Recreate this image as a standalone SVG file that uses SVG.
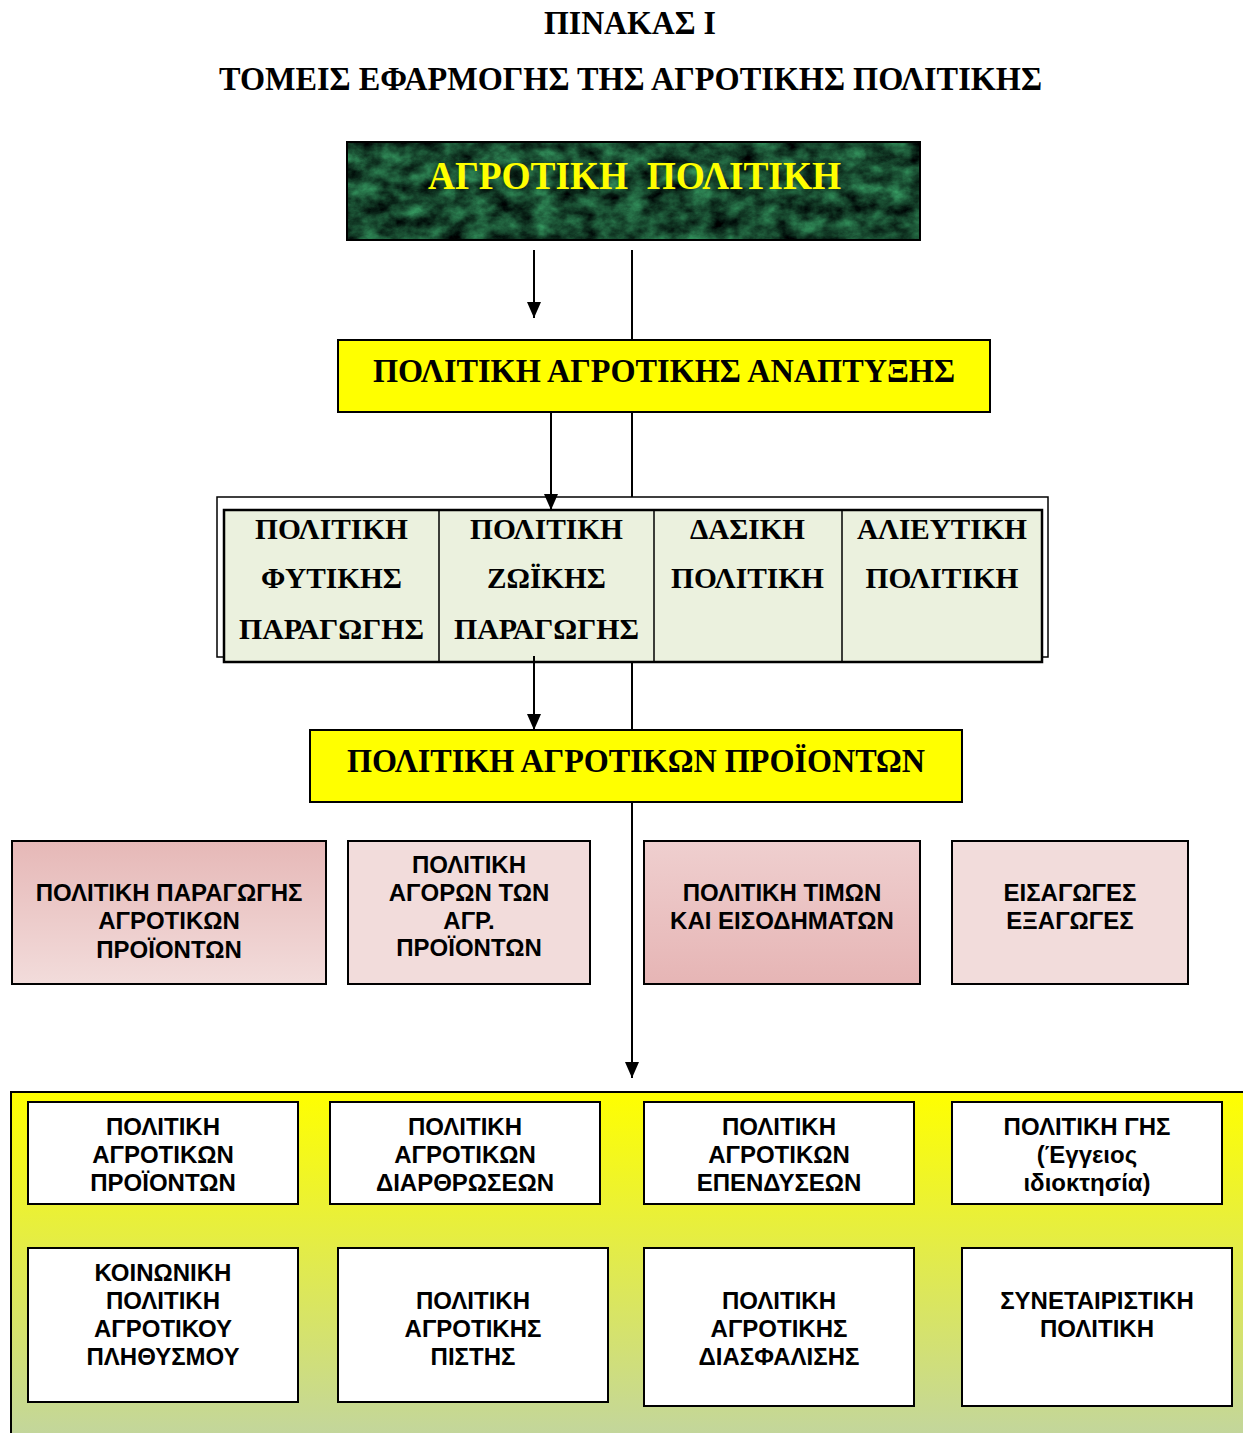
<svg xmlns="http://www.w3.org/2000/svg" width="1243" height="1433" viewBox="0 0 1243 1433">
<style>
.ser{font-family:"Liberation Serif","Times New Roman",serif;font-weight:bold;fill:#000;text-anchor:middle}
.san{font-family:"Liberation Sans",Arial,sans-serif;font-weight:bold;font-size:24px;fill:#000;text-anchor:middle}
.box{stroke:#000;stroke-width:2}
.wbox{fill:#fff;stroke:#000;stroke-width:2}
.con{stroke:#000;stroke-width:2;fill:none}
</style>
<defs>
<marker id="ah" markerUnits="userSpaceOnUse" markerWidth="16" markerHeight="14" refX="16" refY="7" orient="auto">
<path d="M0,0 L16,7 L0,14 z" fill="#000"/>
</marker>
<filter id="marble" x="0" y="0" width="1" height="1" filterUnits="objectBoundingBox" color-interpolation-filters="sRGB">
<feTurbulence type="fractalNoise" baseFrequency="0.045 0.06" numOctaves="5" seed="11" result="n"/>
<feColorMatrix in="n" type="matrix" values="0.3 0 0 0 -0.06  0.8 0 0 0 -0.12  0.5 0 0 0 -0.07  0 0 0 0 1"/>
</filter>
<linearGradient id="pinkDown" x1="0" y1="0" x2="0" y2="1">
<stop offset="0" stop-color="#e6b8b7"/>
<stop offset="1" stop-color="#f2dcdb"/>
</linearGradient>
<linearGradient id="pinkUp" x1="0" y1="0" x2="0" y2="1">
<stop offset="0" stop-color="#efcfcf"/>
<stop offset="1" stop-color="#e6b5b5"/>
</linearGradient>
<linearGradient id="panel" gradientUnits="userSpaceOnUse" x1="0" y1="1092" x2="0" y2="1433">
<stop offset="0" stop-color="#ffff00"/>
<stop offset="1" stop-color="#c3d69b"/>
</linearGradient>
</defs>
<rect width="1243" height="1433" fill="#fff"/>

<g id="title">
<text class="ser" x="630" y="34" font-size="33" textLength="172" lengthAdjust="spacingAndGlyphs">ΠΙΝΑΚΑΣ Ι</text>
<text class="ser" x="630.5" y="90" font-size="33" textLength="823" lengthAdjust="spacingAndGlyphs">ΤΟΜΕΙΣ ΕΦΑΡΜΟΓΗΣ ΤΗΣ ΑΓΡΟΤΙΚΗΣ ΠΟΛΙΤΙΚΗΣ</text>
</g>

<g id="agrotiki-politiki">
<rect x="347" y="142" width="573" height="98" filter="url(#marble)"/>
<rect x="347" y="142" width="573" height="98" fill="none" class="box"/>
<text class="ser" x="634.5" y="189" font-size="39" style="fill:#ffff00;white-space:pre" textLength="413" lengthAdjust="spacingAndGlyphs">ΑΓΡΟΤΙΚΗ  ΠΟΛΙΤΙΚΗ</text>
</g>

<g id="anaptyxi">
<rect x="338" y="340" width="652" height="72" fill="#ffff00" class="box"/>
<text class="ser" x="664" y="382" font-size="33" textLength="582" lengthAdjust="spacingAndGlyphs">ΠΟΛΙΤΙΚΗ ΑΓΡΟΤΙΚΗΣ ΑΝΑΠΤΥΞΗΣ</text>
</g>

<g id="sectors">
<rect x="217" y="497" width="831" height="160" fill="#fff" stroke="#000" stroke-width="1.5"/>
<rect x="224" y="510" width="818" height="152" fill="#ebf1de" stroke="#000" stroke-width="2.5"/>
<line x1="439" y1="510" x2="439" y2="662" stroke="#000" stroke-width="1.5"/>
<line x1="654" y1="510" x2="654" y2="662" stroke="#000" stroke-width="1.5"/>
<line x1="842" y1="510" x2="842" y2="662" stroke="#000" stroke-width="1.5"/>
<g id="fytiki">
<text class="ser" x="331.5" y="539" font-size="29" textLength="153" lengthAdjust="spacingAndGlyphs">ΠΟΛΙΤΙΚΗ</text>
<text class="ser" x="331.5" y="588" font-size="29" textLength="141" lengthAdjust="spacingAndGlyphs">ΦΥΤΙΚΗΣ</text>
<text class="ser" x="331.5" y="639" font-size="29" textLength="185" lengthAdjust="spacingAndGlyphs">ΠΑΡΑΓΩΓΗΣ</text>
</g>
<g id="zoiki">
<text class="ser" x="546.5" y="539" font-size="29" textLength="153" lengthAdjust="spacingAndGlyphs">ΠΟΛΙΤΙΚΗ</text>
<text class="ser" x="546.5" y="588" font-size="29" textLength="119" lengthAdjust="spacingAndGlyphs">ΖΩΪΚΗΣ</text>
<text class="ser" x="546.5" y="639" font-size="29" textLength="185" lengthAdjust="spacingAndGlyphs">ΠΑΡΑΓΩΓΗΣ</text>
</g>
<g id="dasiki">
<text class="ser" x="747.5" y="539" font-size="29" textLength="115" lengthAdjust="spacingAndGlyphs">ΔΑΣΙΚΗ</text>
<text class="ser" x="747.5" y="588" font-size="29" textLength="153" lengthAdjust="spacingAndGlyphs">ΠΟΛΙΤΙΚΗ</text>
</g>
<g id="alieftiki">
<text class="ser" x="942" y="539" font-size="29" textLength="170" lengthAdjust="spacingAndGlyphs">ΑΛΙΕΥΤΙΚΗ</text>
<text class="ser" x="942" y="588" font-size="29" textLength="153" lengthAdjust="spacingAndGlyphs">ΠΟΛΙΤΙΚΗ</text>
</g>
</g>

<g id="proionta">
<rect x="310" y="730" width="652" height="72" fill="#ffff00" class="box"/>
<text class="ser" x="636" y="772" font-size="33" textLength="578" lengthAdjust="spacingAndGlyphs">ΠΟΛΙΤΙΚΗ ΑΓΡΟΤΙΚΩΝ ΠΡΟΪΟΝΤΩΝ</text>
</g>

<g id="paragogis">
<rect x="12" y="841" width="314" height="143" fill="url(#pinkDown)" class="box"/>
<text class="san" x="169" y="901">ΠΟΛΙΤΙΚΗ ΠΑΡΑΓΩΓΗΣ</text>
<text class="san" x="169" y="929">ΑΓΡΟΤΙΚΩΝ</text>
<text class="san" x="169" y="958">ΠΡΟΪΟΝΤΩΝ</text>
</g>
<g id="agoron">
<rect x="348" y="841" width="242" height="143" fill="#f2dcdb" class="box"/>
<text class="san" x="469" y="873">ΠΟΛΙΤΙΚΗ</text>
<text class="san" x="469" y="901">ΑΓΟΡΩΝ ΤΩΝ</text>
<text class="san" x="469" y="929">ΑΓΡ.</text>
<text class="san" x="469" y="956">ΠΡΟΪΟΝΤΩΝ</text>
</g>
<g id="timon">
<rect x="644" y="841" width="276" height="143" fill="url(#pinkUp)" class="box"/>
<text class="san" x="782" y="901">ΠΟΛΙΤΙΚΗ ΤΙΜΩΝ</text>
<text class="san" x="782" y="929">ΚΑΙ ΕΙΣΟΔΗΜΑΤΩΝ</text>
</g>
<g id="eisagoges">
<rect x="952" y="841" width="236" height="143" fill="#f2dcdb" class="box"/>
<text class="san" x="1070" y="901">ΕΙΣΑΓΩΓΕΣ</text>
<text class="san" x="1070" y="929">ΕΞΑΓΩΓΕΣ</text>
</g>

<g id="panel">
<rect x="11" y="1092" width="1250" height="360" fill="url(#panel)" class="box"/>
<g id="b1">
<rect x="28" y="1102" width="270" height="102" class="wbox"/>
<text class="san" x="163" y="1135">ΠΟΛΙΤΙΚΗ</text>
<text class="san" x="163" y="1163">ΑΓΡΟΤΙΚΩΝ</text>
<text class="san" x="163" y="1191">ΠΡΟΪΟΝΤΩΝ</text>
</g>
<g id="b2">
<rect x="330" y="1102" width="270" height="102" class="wbox"/>
<text class="san" x="465" y="1135">ΠΟΛΙΤΙΚΗ</text>
<text class="san" x="465" y="1163">ΑΓΡΟΤΙΚΩΝ</text>
<text class="san" x="465" y="1191">ΔΙΑΡΘΡΩΣΕΩΝ</text>
</g>
<g id="b3">
<rect x="644" y="1102" width="270" height="102" class="wbox"/>
<text class="san" x="779" y="1135">ΠΟΛΙΤΙΚΗ</text>
<text class="san" x="779" y="1163">ΑΓΡΟΤΙΚΩΝ</text>
<text class="san" x="779" y="1191">ΕΠΕΝΔΥΣΕΩΝ</text>
</g>
<g id="b4">
<rect x="952" y="1102" width="270" height="102" class="wbox"/>
<text class="san" x="1087" y="1135">ΠΟΛΙΤΙΚΗ ΓΗΣ</text>
<text class="san" x="1087" y="1163">(Έγγειος</text>
<text class="san" x="1087" y="1191">ιδιοκτησία)</text>
</g>
<g id="b5">
<rect x="28" y="1248" width="270" height="154" class="wbox"/>
<text class="san" x="163" y="1281">ΚΟΙΝΩΝΙΚΗ</text>
<text class="san" x="163" y="1309">ΠΟΛΙΤΙΚΗ</text>
<text class="san" x="163" y="1337">ΑΓΡΟΤΙΚΟΥ</text>
<text class="san" x="163" y="1365">ΠΛΗΘΥΣΜΟΥ</text>
</g>
<g id="b6">
<rect x="338" y="1248" width="270" height="154" class="wbox"/>
<text class="san" x="473" y="1309">ΠΟΛΙΤΙΚΗ</text>
<text class="san" x="473" y="1337">ΑΓΡΟΤΙΚΗΣ</text>
<text class="san" x="473" y="1365">ΠΙΣΤΗΣ</text>
</g>
<g id="b7">
<rect x="644" y="1248" width="270" height="158" class="wbox"/>
<text class="san" x="779" y="1309">ΠΟΛΙΤΙΚΗ</text>
<text class="san" x="779" y="1337">ΑΓΡΟΤΙΚΗΣ</text>
<text class="san" x="779" y="1365">ΔΙΑΣΦΑΛΙΣΗΣ</text>
</g>
<g id="b8">
<rect x="962" y="1248" width="270" height="158" class="wbox"/>
<text class="san" x="1097" y="1309">ΣΥΝΕΤΑΙΡΙΣΤΙΚΗ</text>
<text class="san" x="1097" y="1337">ΠΟΛΙΤΙΚΗ</text>
</g>
</g>

<g id="connectors">
<line class="con" x1="534" y1="250" x2="534" y2="318" marker-end="url(#ah)"/>
<line class="con" x1="632" y1="250" x2="632" y2="340"/>
<line class="con" x1="551" y1="412" x2="551" y2="510" marker-end="url(#ah)"/>
<line class="con" x1="632" y1="412" x2="632" y2="497"/>
<line class="con" x1="534" y1="656" x2="534" y2="730" marker-end="url(#ah)"/>
<line class="con" x1="632" y1="663" x2="632" y2="730"/>
<line class="con" x1="632" y1="802" x2="632" y2="1078" marker-end="url(#ah)"/>
</g>
</svg>
